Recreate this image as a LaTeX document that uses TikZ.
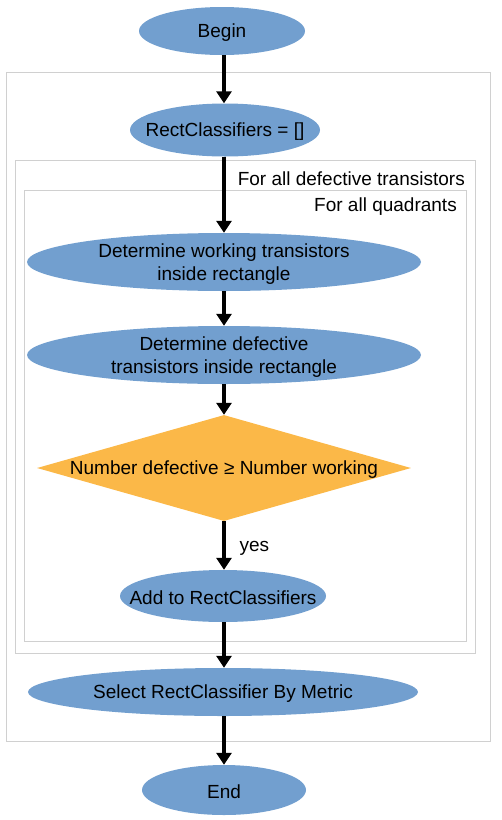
\documentclass[tikz,border=0pt]{standalone}
\usepackage{fontspec}
\setmainfont{Liberation Sans}
\usetikzlibrary{shapes.geometric,arrows.meta}
\definecolor{bluefill}{HTML}{729FCF}
\definecolor{orangefill}{HTML}{FBB848}
\definecolor{framegray}{HTML}{D0D0D0}
\begin{document}
\begin{tikzpicture}[x=1pt,y=-1pt,
  every node/.style={font=\fontsize{19}{23}\selectfont, inner sep=0pt},
  every label/.style={align=center, inner sep=0pt, yshift=-2pt},
  oval/.style={ellipse, fill=bluefill},
  decision/.style={diamond, aspect=3.53, fill=orangefill, minimum width=374pt, minimum height=106pt},
  frame/.style={draw=framegray, line width=0.9pt},
  flow/.style={line width=3.2pt, -{Triangle[length=12pt,width=15pt]}},
  lbl/.style={anchor=east}
]
\useasboundingbox (0,0) rectangle (502,820);
\draw[frame] (6,72) rectangle (490,741);
\draw[frame] (15,160) rectangle (475,653);
\draw[frame] (24,190) rectangle (466,641);
\node[lbl] (l1) at (465,179) {For all defective transistors};
\node[lbl] (l2) at (457,207) {For all quadrants};

\node[oval, minimum width=166pt, minimum height=48pt, label={center:Begin}] (begin) at (222,31) {};
\node[oval, minimum width=190pt, minimum height=53pt, label={center:RectClassifiers = []}] (rc) at (225,130) {};
\node[oval, minimum width=394pt, minimum height=58pt, label={center:{Determine working transistors\\inside rectangle}}] (work) at (224,262) {};
\node[oval, minimum width=394pt, minimum height=58pt, label={center:{Determine defective\\transistors inside rectangle}}] (def) at (224,355) {};
\node[decision, label={center:Number defective ≥ Number working}] (dec) at (224,468) {};
\node[oval, minimum width=206pt, minimum height=52pt, label={center:Add to RectClassifiers}] (add) at (223,596) {};
\node[oval, minimum width=390pt, minimum height=48pt, label={center:Select RectClassifier By Metric}] (sel) at (223,692) {};
\node[oval, minimum width=164pt, minimum height=50pt, label={center:End}] (end) at (224,790) {};

\draw[flow] (begin.south -| 224,0) -- (rc.north -| 224,0);
\draw[flow] (rc.south -| 224,0) -- (work.north);
\draw[flow] (work.south) -- (def.north);
\draw[flow] (def.south) -- (dec.north);
\draw[flow] (dec.south) -- node[right=14pt, pos=0.5, yshift=-3pt] (yes) {yes} (add.north -| 224,0);
\draw[flow] (add.south -| 224,0) -- (sel.north -| 224,0);
\draw[flow] (sel.south -| 224,0) -- (end.north);
\end{tikzpicture}
\end{document}
